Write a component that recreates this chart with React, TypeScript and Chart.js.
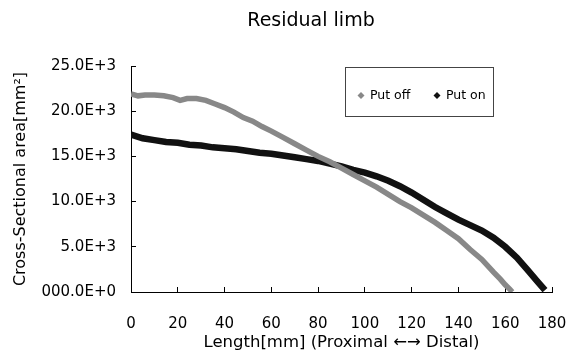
import React, { useEffect, useRef } from "react";
import { Chart, registerables } from "chart.js";
Chart.register(...registerables);

const chartTitle = "Residual limb";
const xTitle = "Length[mm] (Proximal \u2190\u2192 Distal)";
const yTitle = "Cross-Sectional area[mm\u00B2]";
const seriesNames = ["Put off", "Put on"];
const seriesColors = ["#888888", "#111111"];

const putOffLength = [0, 3, 6, 10, 14, 18, 21, 24, 28, 32, 36, 40, 44, 48, 52, 56, 60, 65, 70, 75, 80, 85, 90, 95, 100, 105, 110, 115, 120, 125, 130, 135, 140, 145, 150, 155, 158, 160, 162, 163];
const putOffArea = [21900, 21700, 21800, 21800, 21700, 21500, 21200, 21400, 21400, 21200, 20800, 20400, 19900, 19300, 18900, 18300, 17800, 17100, 16400, 15700, 15000, 14400, 13700, 13000, 12300, 11600, 10800, 10000, 9300, 8500, 7700, 6800, 5900, 4700, 3600, 2200, 1400, 800, 300, 0];

const putOnLength = [0, 5, 10, 15, 20, 25, 30, 35, 40, 45, 50, 55, 60, 65, 70, 75, 80, 85, 90, 95, 100, 105, 110, 115, 120, 125, 130, 135, 140, 145, 150, 155, 160, 165, 170, 174, 177];
const putOnArea = [17400, 17000, 16800, 16600, 16500, 16300, 16200, 16000, 15900, 15800, 15600, 15400, 15300, 15100, 14900, 14700, 14500, 14200, 13900, 13500, 13200, 12800, 12300, 11700, 11000, 10200, 9400, 8700, 8000, 7400, 6800, 6000, 5000, 3800, 2300, 1100, 200];

const xTickValues = [0, 20, 40, 60, 80, 100, 120, 140, 160, 180];
const yTickValues = [0, 5000, 10000, 15000, 20000, 25000];
const yTickLabels = ["000.0E+0", "5.0E+3", "10.0E+3", "15.0E+3", "20.0E+3", "25.0E+3"];

const FONT = "'DejaVu Sans', sans-serif";

const overlayPlugin = {
  id: "overlay",
  afterDraw(chart: any) {
    const ctx = chart.ctx;
    ctx.save();
    ctx.fillStyle = "#000";
    ctx.font = `19px ${FONT}`;
    ctx.textAlign = "center";
    ctx.textBaseline = "middle";
    ctx.fillText(chartTitle, 311, 21);

    // legend
    ctx.strokeStyle = "#444";
    ctx.lineWidth = 1;
    ctx.strokeRect(345.5, 67.5, 148, 49);
    ctx.font = `12.5px ${FONT}`;
    ctx.textAlign = "left";
    const items = [
      { x: 361, tx: 370 },
      { x: 437, tx: 446 },
    ];
    items.forEach((it, i) => {
      ctx.fillStyle = seriesColors[i];
      ctx.beginPath();
      ctx.moveTo(it.x, 92);
      ctx.lineTo(it.x + 3.5, 95.5);
      ctx.lineTo(it.x, 99);
      ctx.lineTo(it.x - 3.5, 95.5);
      ctx.closePath();
      ctx.fill();
      ctx.fillStyle = "#000";
      ctx.fillText(seriesNames[i], it.tx, 96);
    });
    ctx.restore();
  },
};

export default function App() {
  const ref = useRef<HTMLCanvasElement>(null);
  useEffect(() => {
    document.body.style.margin = "0";
    const canvas = ref.current!;
    const chart = new Chart(canvas, {
      type: "line",
      data: {
        datasets: [
          {
            label: seriesNames[0],
            data: putOffLength.map((x, i) => ({ x, y: putOffArea[i] })),
            borderColor: seriesColors[0],
            backgroundColor: seriesColors[0],
            borderWidth: 5.5,
            pointRadius: 0,
            tension: 0,
          },
          {
            label: seriesNames[1],
            data: putOnLength.map((x, i) => ({ x, y: putOnArea[i] })),
            borderColor: seriesColors[1],
            backgroundColor: seriesColors[1],
            borderWidth: 6.5,
            pointRadius: 0,
            tension: 0,
          },
        ],
      },
      options: {
        responsive: false,
        animation: false,
        layout: { padding: { left: 0, top: 66, right: 18, bottom: 0 } },
        plugins: { legend: { display: false }, title: { display: false }, tooltip: { enabled: false } },
        scales: {
          x: {
            type: "linear",
            min: 0,
            max: 180,
            afterBuildTicks: (s: any) => {
              s.ticks = xTickValues.map((v) => ({ value: v }));
            },
            afterFit: (s: any) => {
              s.height = 62;
              s.paddingLeft = 0;
              s.paddingRight = 0;
            },
            grid: { drawOnChartArea: false, drawTicks: true, tickLength: -5, color: "#000" },
            border: { display: true, color: "#000", width: 1 },
            ticks: {
              color: "#000",
              font: { family: FONT, size: 15 },
              padding: 28,
              maxRotation: 0,
              callback: (v: any) => String(v),
            },
            title: {
              display: true,
              text: xTitle,
              color: "#000",
              font: { family: FONT, size: 16.5 },
              padding: { top: 0, bottom: 1 },
            },
          },
          y: {
            type: "linear",
            min: 0,
            max: 25000,
            afterBuildTicks: (s: any) => {
              s.ticks = yTickValues.map((v) => ({ value: v }));
            },
            afterFit: (s: any) => {
              s.width = 131;
              s.paddingTop = 0;
              s.paddingBottom = 0;
            },
            grid: { drawOnChartArea: false, drawTicks: true, tickLength: -5, color: "#000" },
            border: { display: true, color: "#000", width: 1 },
            ticks: {
              color: "#000",
              font: { family: FONT, size: 15 },
              padding: 20,
              callback: (v: any) => {
                const i = yTickValues.indexOf(Number(v));
                return i >= 0 ? yTickLabels[i] : "";
              },
            },
            title: {
              display: true,
              text: yTitle,
              color: "#000",
              font: { family: FONT, size: 16 },
              padding: { top: 11, bottom: 0 },
            },
          },
        },
      },
      plugins: [overlayPlugin],
    } as any);
    return () => chart.destroy();
  }, []);
  return (
    <div style={{ width: 570, height: 354 }}>
      <canvas ref={ref} width={570} height={354} style={{ display: "block" }} />
    </div>
  );
}
